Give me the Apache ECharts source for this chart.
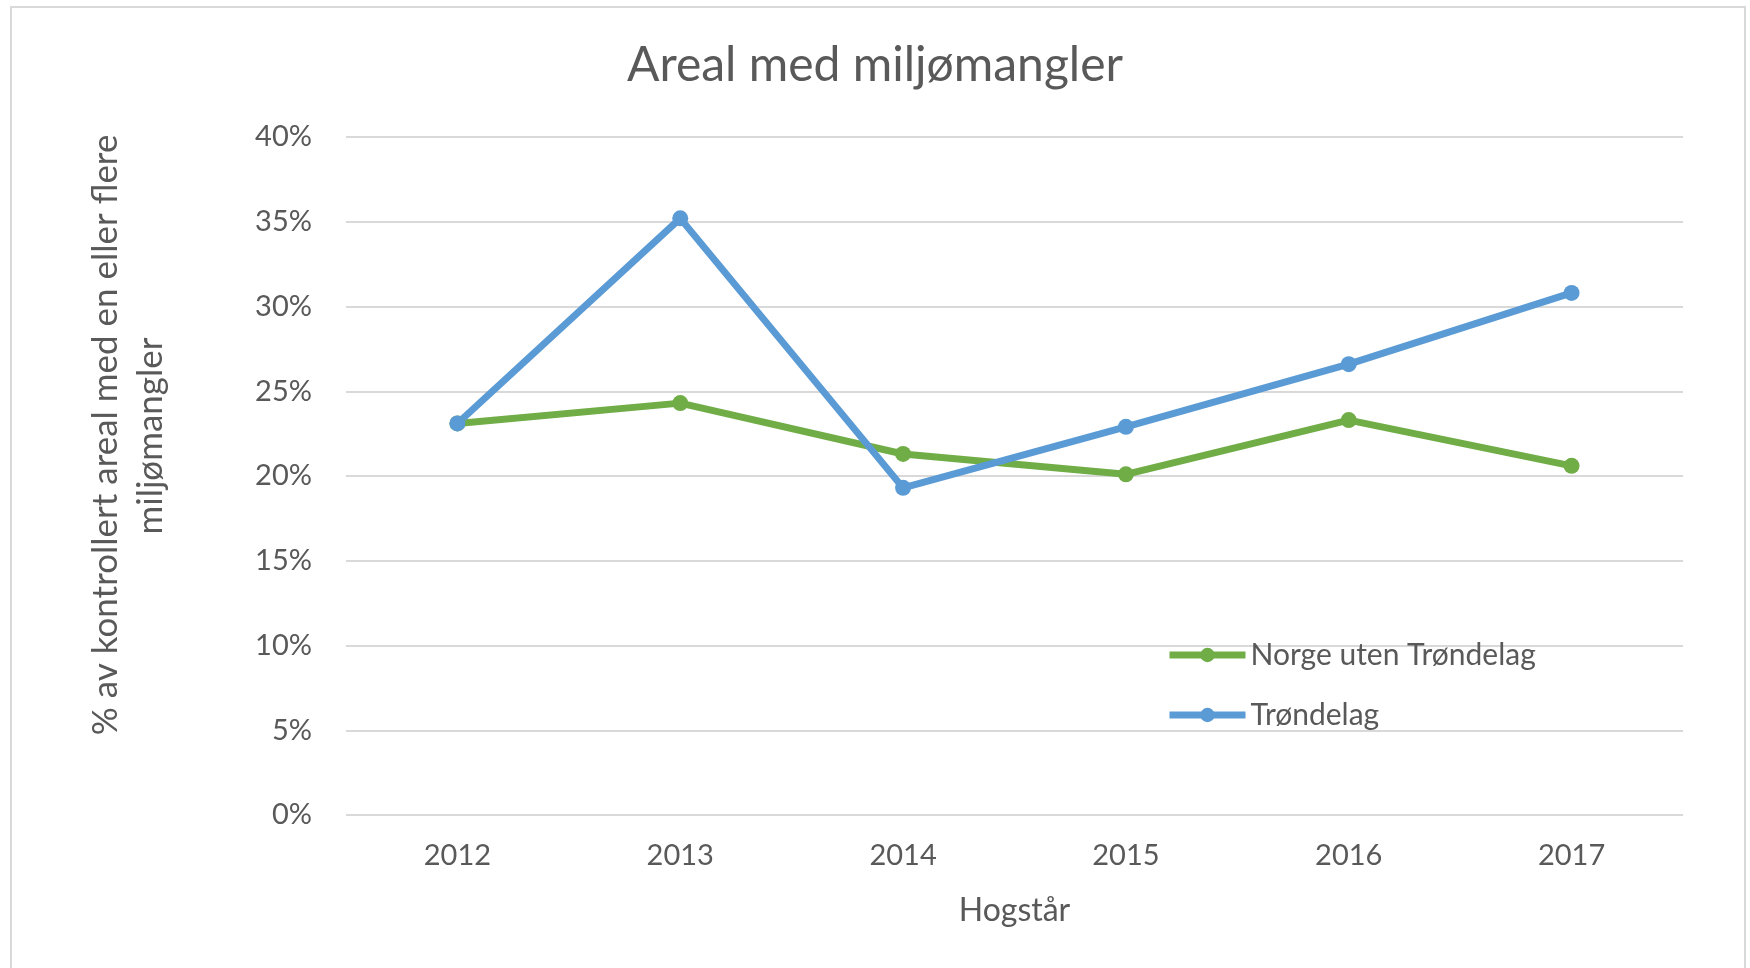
<!DOCTYPE html>
<html>
<head>
<meta charset="utf-8">
<script src="https://cdn.jsdelivr.net/npm/echarts@6/dist/echarts.min.js"></script>
<style>
html,body{margin:0;padding:0;background:#fff;}
#chart{width:1750px;height:968px;}
</style>
</head>
<body>
<div id="chart"></div>
<script>
const categories = ['2012', '2013', '2014', '2015', '2016', '2017'];
const norgeUtenTrondelag = [0.231, 0.243, 0.213, 0.201, 0.233, 0.206];
const trondelag = [0.231, 0.352, 0.193, 0.229, 0.266, 0.308];
const seriesNames = ['Norge uten Trøndelag', 'Trøndelag'];
const titleText = 'Areal med miljømangler';
const xAxisName = 'Hogstår';
const yAxisNameLines = ['% av kontrollert areal med en eller flere', 'miljømangler'];

const FONT = 'Lato';
const TXT = '#595959';
const chart = echarts.init(document.getElementById('chart'), null, {renderer: 'canvas'});
chart.setOption({
  backgroundColor: '#ffffff',
  animation: false,
  title: {
    text: titleText,
    left: 'center',
    top: 37,
    textStyle: {fontFamily: FONT, fontSize: 48, fontWeight: 'normal', color: TXT}
  },
  grid: {left: 346, right: 67, top: 137, bottom: 153, containLabel: false},
  legend: {
    orient: 'vertical',
    left: 1166,
    top: 640,
    padding: 0,
    itemWidth: 76,
    itemHeight: 18,
    itemGap: 30,
    data: seriesNames,
    lineStyle: {width: 7},
    textStyle: {fontFamily: FONT, fontSize: 30, color: TXT, lineHeight: 30}
  },
  xAxis: {
    type: 'category',
    data: categories,
    boundaryGap: true,
    axisLine: {show: false},
    axisTick: {show: false},
    axisLabel: {fontFamily: FONT, fontSize: 29, color: TXT, margin: 26},
    name: xAxisName,
    nameLocation: 'middle',
    nameGap: 80,
    nameTextStyle: {fontFamily: FONT, fontSize: 32, color: TXT}
  },
  yAxis: {
    type: 'value',
    min: 0,
    max: 0.4,
    interval: 0.05,
    axisLine: {show: false},
    axisTick: {show: false},
    splitLine: {lineStyle: {color: '#d9d9d9', width: 2}},
    axisLabel: {
      fontFamily: FONT, fontSize: 29, color: TXT, margin: 34,
      formatter: v => Math.round(v * 100) + '%'
    }
  },
  graphic: [
    {
      type: 'rect', silent: true, z: -10,
      shape: {x: 11, y: 7, width: 1734, height: 990},
      style: {fill: 'none', stroke: '#d9d9d9', lineWidth: 2}
    },
    {
      type: 'text', x: 106, y: 435, rotation: Math.PI / 2,
      style: {text: yAxisNameLines[0], fontFamily: FONT, fontSize: 35, fill: TXT, align: 'center', verticalAlign: 'middle'}
    },
    {
      type: 'text', x: 151, y: 436, rotation: Math.PI / 2,
      style: {text: yAxisNameLines[1], fontFamily: FONT, fontSize: 35, fill: TXT, align: 'center', verticalAlign: 'middle', textLetterSpacing: 1}
    }
  ],
  series: [
    {
      name: seriesNames[0], type: 'line', data: norgeUtenTrondelag,
      symbol: 'circle', symbolSize: 16,
      lineStyle: {color: '#70ad47', width: 7},
      itemStyle: {color: '#70ad47'}
    },
    {
      name: seriesNames[1], type: 'line', data: trondelag,
      symbol: 'circle', symbolSize: 16,
      lineStyle: {color: '#5b9bd5', width: 7},
      itemStyle: {color: '#5b9bd5'}
    }
  ]
});
</script>
</body>
</html>
